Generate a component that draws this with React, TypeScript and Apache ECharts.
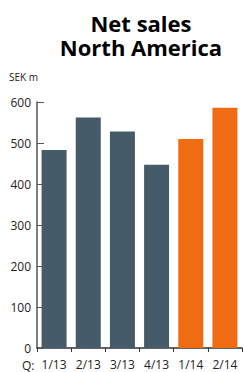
import React, { useEffect, useRef } from "react";
import * as echarts from "echarts";

const categories = ["1/13", "2/13", "3/13", "4/13", "1/14", "2/14"];
const values = [483, 562, 528, 447, 510, 586];
const barColors = ["#465b69", "#465b69", "#465b69", "#465b69", "#f06c12", "#f06c12"];
const yTicks = { min: 0, max: 600, interval: 100 };
const titleLines = ["Net sales", "North America"];

export default function App() {
  const ref = useRef<HTMLDivElement>(null);
  useEffect(() => {
    const chart = echarts.init(ref.current!, null, { renderer: "svg" });
    chart.setOption({
      animation: false,
      grid: { left: 37, right: 2, top: 102, bottom: 24, containLabel: false },
      graphic: [
        ...titleLines.map((t, i) => ({
          type: "text",
          x: 141,
          y: 23 + i * 24,
          style: {
            text: t,
            font: "bold 22px 'Open Sans', sans-serif",
            lineHeight: 22,
            fill: "#000",
            align: "center",
            verticalAlign: "middle",
          },
        })),
        {
          type: "text",
          x: 9,
          y: 72,
          style: { text: "SEK m", font: "10px 'Open Sans', sans-serif", fill: "#222" },
        },
        {
          type: "text",
          x: 22,
          y: 359,
          style: { text: "Q:", font: "12px 'Open Sans', sans-serif", fill: "#222" },
        },
      ],
      xAxis: {
        type: "category",
        data: categories,
        axisLine: { show: true, lineStyle: { color: "#333", width: 1.5 } },
        axisTick: { show: true, length: 4, lineStyle: { color: "#333" } },
        axisLabel: { margin: 10, fontSize: 12, color: "#222", fontFamily: "'Open Sans', sans-serif" },
      },
      yAxis: {
        type: "value",
        min: yTicks.min,
        max: yTicks.max,
        interval: yTicks.interval,
        splitLine: { show: false },
        axisLine: { show: true, lineStyle: { color: "#555", width: 1.5 } },
        axisTick: { show: true, inside: true, length: 7, lineStyle: { color: "#555" } },
        axisLabel: { margin: 6, fontSize: 12, color: "#222", fontFamily: "'Open Sans', sans-serif" },
      },
      series: [
        {
          type: "bar",
          barWidth: 25,
          data: values.map((v, i) => ({ value: v, itemStyle: { color: barColors[i] } })),
        },
      ],
    });
    return () => chart.dispose();
  }, []);
  return <div ref={ref} style={{ width: 244, height: 372, position: "absolute", left: 0, top: 0 }} />;
}
